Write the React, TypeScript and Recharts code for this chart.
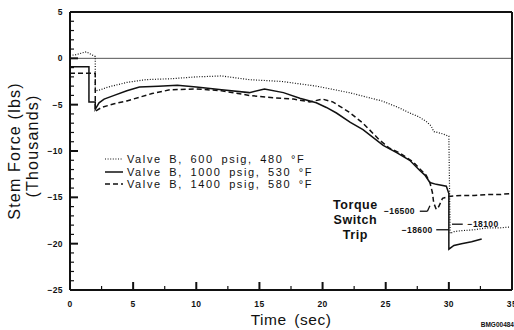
import {
  LineChart,
  Line,
  XAxis,
  YAxis,
  ReferenceLine,
  ReferenceDot,
  Legend,
} from "recharts";

const FONT = '"Liberation Sans", Arial, Helvetica, sans-serif';
const INK = "#111111";

// axis ticks (major every 5, minor in between)
const xTicks = [0, 2.5, 5, 7.5, 10, 12.5, 15, 17.5, 20, 22.5, 25, 27.5, 30, 32.5, 35];
const yTicks = [
  5, 4, 3, 2, 1, 0, -1, -2, -3, -4, -5, -6, -7, -8, -9, -10, -11, -12, -13, -14,
  -15, -16, -17, -18, -19, -20, -21, -22, -23, -24, -25,
];

const legendLabels = [
  "Valve B, 600 psig, 480 °F",
  "Valve B, 1000 psig, 530 °F",
  "Valve B, 1400 psig, 580 °F",
];

// Valve B, 600 psig (dotted trace) — time in sec, force in thousands of lbs
const v600Time = [
  0, 0.5, 1.0, 1.3, 1.7, 2.0, 2.0, 2.4, 3.0, 4.5, 6.0, 8.0, 10.0, 12.0, 14.2,
  16.8, 19.5, 22.1, 24.7, 26.0, 26.9, 27.6, 28.2, 28.6, 28.8, 29.4, 30.0, 30.1,
  30.4, 31.0, 32.0, 33.0, 34.0, 34.8,
];
const v600Force = [
  0.3, 0.4, 0.6, 0.7, 0.4, 0.2, -3.5, -3.4, -3.1, -2.6, -2.3, -2.2, -2.0, -1.9,
  -2.3, -2.5, -3.0, -3.7, -4.6, -5.3, -5.9, -6.3, -6.8, -7.3, -7.9, -8.1, -8.4,
  -18.9, -18.7, -18.6, -18.5, -18.3, -18.3, -18.2,
];

// Valve B, 1000 psig (solid trace)
const v1000Time = [
  0, 1.5, 1.5, 2.0, 2.0, 2.3, 2.7, 3.5, 4.5, 5.5, 7.0, 8.5, 10.0, 12.0, 14.2,
  15.4, 16.9, 18.2, 19.5, 20.3, 21.1, 22.2, 23.2, 24.8, 25.9, 26.9, 27.7, 28.1,
  28.5, 29.0, 29.8, 30.0, 30.0, 30.4, 31.0, 31.8, 32.6,
];
const v1000Force = [
  -0.9, -0.9, -4.7, -4.7, -5.5, -4.8, -4.4, -4.0, -3.5, -3.1, -3.0, -2.9, -3.1,
  -3.4, -3.7, -3.3, -3.7, -4.3, -4.8, -5.3, -5.9, -6.9, -7.7, -9.4, -10.2,
  -11.0, -12.1, -12.6, -13.4, -13.6, -13.8, -14.6, -20.6, -20.2, -20.0, -19.8,
  -19.5,
];

// Valve B, 1400 psig (dashed trace)
const v1400Time = [
  0, 2.0, 2.0, 2.5, 3.5, 4.5, 5.5, 6.5, 7.9, 10.0, 12.0, 14.2, 15.6, 17.7, 19.0,
  20.0, 20.8, 22.1, 23.2, 24.5, 25.3, 26.1, 27.2, 27.6, 28.2, 28.5, 28.7, 28.8,
  29.0, 29.2, 29.5, 30.0, 31.0, 32.0, 33.0, 34.0, 34.8,
];
const v1400Force = [
  -1.6, -1.6, -5.7, -5.3, -4.9, -4.6, -4.2, -3.8, -3.4, -3.3, -3.5, -4.0, -4.2,
  -4.4, -4.7, -4.4, -4.7, -5.8, -7.0, -8.8, -9.7, -10.2, -11.2, -11.8, -12.6,
  -13.4, -14.5, -15.6, -16.3, -16.0, -15.1, -14.9, -14.8, -14.8, -14.7, -14.7,
  -14.6,
];

// torque switch trip callouts
const tripText = ["−16500", "−18600", "−18100"];
const tripTextTime = [27.4, 28.8, 31.4];
const tripTextForce = [-16.5, -18.5, -17.9];
const tripTextSide = ["left", "left", "right"] as const;
const leaderFrom = [
  [27.7, -16.5],
  [28.3, -16.5],
  [29.0, -18.5],
  [30.25, -17.9],
];
const leaderTo = [
  [28.3, -16.5],
  [28.5, -15.9],
  [30.0, -18.5],
  [31.1, -17.9],
];
const captionLines = ["Torque", "Switch", "Trip"];
const captionTime = 22.6;
const captionForce = [-15.8, -17.4, -19.0];

const dashes = ["1 1.6", undefined, "5 3"];
const widths = [1.2, 1.5, 1.5];

const toPoints = (t: number[], f: number[]) => t.map((x, i) => ({ t: x, f: f[i] }));
const series = [
  toPoints(v600Time, v600Force),
  toPoints(v1000Time, v1000Force),
  toPoints(v1400Time, v1400Force),
];

const fmt = (v: number) => (v < 0 ? `\u2212${Math.abs(v)}` : String(v));
const tickText = {
  fontFamily: FONT,
  fontSize: 8.5,
  fontWeight: 700,
  fill: INK,
  letterSpacing: 0.4,
};

function BottomTick({ x, y, payload }: any) {
  const v = payload.value;
  const major = v % 5 === 0;
  return (
    <g>
      <line x1={x} y1={y} x2={x} y2={y - (major ? 8 : 4)} stroke={INK} strokeWidth={major ? 2 : 1.2} />
      {major && (
        <text x={x} y={y + 17} textAnchor="middle" {...tickText}>
          {v}
        </text>
      )}
    </g>
  );
}

function TopTick({ x, y, payload }: any) {
  const major = payload.value % 5 === 0;
  return <line x1={x} y1={y} x2={x} y2={y + (major ? 8 : 4)} stroke={INK} strokeWidth={major ? 2 : 1.2} />;
}

function LeftTick({ x, y, payload }: any) {
  const v = payload.value;
  const major = v % 5 === 0;
  return (
    <g>
      <line x1={x} y1={y} x2={x + (major ? 8 : 4)} y2={y} stroke={INK} strokeWidth={major ? 2 : 1.2} />
      {major && (
        <text x={x - 7} y={y + 3} textAnchor="end" {...tickText}>
          {fmt(v)}
        </text>
      )}
    </g>
  );
}

function RightTick({ x, y, payload }: any) {
  const major = payload.value % 5 === 0;
  return <line x1={x} y1={y} x2={x - (major ? 8 : 4)} y2={y} stroke={INK} strokeWidth={major ? 2 : 1.2} />;
}

function ForceTitle({ viewBox }: any) {
  const vx = viewBox?.x ?? 0;
  const cy = (viewBox?.y ?? 0) + (viewBox?.height ?? 0) / 2;
  const style = { fontFamily: FONT, fontSize: 16, fill: INK, letterSpacing: 1.2 };
  return (
    <g>
      <text x={vx + 14} y={cy} transform={`rotate(-90 ${vx + 14} ${cy})`} textAnchor="middle" dominantBaseline="central" {...style}>
        Stem Force (lbs)
      </text>
      <text x={vx + 32} y={cy - 5} transform={`rotate(-90 ${vx + 32} ${cy - 5})`} textAnchor="middle" dominantBaseline="central" {...style}>
        (Thousands)
      </text>
    </g>
  );
}

function TimeTitle({ viewBox }: any) {
  const vx = viewBox?.x ?? 0;
  const vy = viewBox?.y ?? 0;
  const w = viewBox?.width ?? 0;
  return (
    <g>
      <text x={vx + w / 2} y={vy + 35} textAnchor="middle" fontFamily={FONT} fontSize={15.5} fill={INK} letterSpacing={0.5} wordSpacing={3}>
        Time (sec)
      </text>
      <text x={vx + w + 2} y={vy + 37} textAnchor="end" fontFamily={FONT} fontSize={6.5} fontWeight={700} fill={INK}>
        BMG00484
      </text>
    </g>
  );
}

function LegendBox() {
  return (
    <div style={{ fontFamily: FONT, fontSize: 11, color: INK, letterSpacing: 1.6, wordSpacing: 3, lineHeight: "12.5px" }}>
      {legendLabels.map((label, i) => (
        <div key={label} style={{ display: "flex", alignItems: "center", height: 12.5 }}>
          <svg width={21} height={12}>
            <line x1={2} y1={6} x2={20} y2={6} stroke={INK} strokeWidth={widths[i]} strokeDasharray={dashes[i]} />
          </svg>
          <span style={{ marginLeft: 3, whiteSpace: "nowrap" }}>{label}</span>
        </div>
      ))}
    </div>
  );
}

const calloutStyle = { fontFamily: FONT, fontSize: 8.5, fontWeight: 700, fill: INK, letterSpacing: 0.4 };

export default function App() {
  return (
    <div style={{ position: "absolute", left: 0, top: 0, width: 514, height: 330, background: "#fff" }}>
      <LineChart width={514} height={330} margin={{ top: 0, right: 0, bottom: 0, left: 0 }}>
        <XAxis
          dataKey="t"
          type="number"
          domain={[0, 35]}
          ticks={xTicks}
          interval={0}
          height={40}
          tickSize={0}
          tickMargin={0}
          tickLine={false}
          axisLine={{ stroke: INK, strokeWidth: 2 }}
          tick={<BottomTick />}
          label={{ content: (p: any) => <TimeTitle {...p} /> }}
        />
        <XAxis
          xAxisId="top"
          orientation="top"
          dataKey="t"
          type="number"
          domain={[0, 35]}
          ticks={xTicks}
          interval={0}
          height={12}
          tickSize={0}
          tickMargin={0}
          tickLine={false}
          axisLine={{ stroke: INK, strokeWidth: 2 }}
          tick={<TopTick />}
        />
        <YAxis
          type="number"
          domain={[-25, 5]}
          ticks={yTicks}
          interval={0}
          width={70}
          tickSize={0}
          tickMargin={0}
          tickLine={false}
          axisLine={{ stroke: INK, strokeWidth: 2 }}
          tick={<LeftTick />}
          label={{ content: (p: any) => <ForceTitle {...p} /> }}
        />
        <YAxis
          yAxisId="right"
          orientation="right"
          type="number"
          domain={[-25, 5]}
          ticks={yTicks}
          interval={0}
          width={2}
          tickSize={0}
          tickMargin={0}
          tickLine={false}
          axisLine={{ stroke: INK, strokeWidth: 2 }}
          tick={<RightTick />}
        />
        <ReferenceLine y={0} stroke="#555" strokeWidth={1} />
        {series.map((data, i) => (
          <Line
            key={legendLabels[i]}
            data={data}
            dataKey="f"
            type="linear"
            stroke={INK}
            strokeWidth={widths[i]}
            strokeDasharray={dashes[i]}
            dot={false}
            isAnimationActive={false}
          />
        ))}
        {leaderFrom.map((from, i) => (
          <ReferenceLine
            key={`leader-${i}`}
            segment={[
              { x: from[0], y: from[1] },
              { x: leaderTo[i][0], y: leaderTo[i][1] },
            ]}
            stroke={INK}
            strokeWidth={1.3}
          />
        ))}
        {tripText.map((text, i) => (
          <ReferenceDot
            key={text}
            x={tripTextTime[i]}
            y={tripTextForce[i]}
            r={0}
            fill="none"
            stroke="none"
            label={{ value: text, position: tripTextSide[i], offset: 1, ...calloutStyle }}
          />
        ))}
        {captionLines.map((line, i) => (
          <ReferenceDot
            key={line}
            x={captionTime}
            y={captionForce[i]}
            r={0}
            fill="none"
            stroke="none"
            label={{ value: line, position: "center", fontFamily: FONT, fontSize: 12.5, fontWeight: 700, fill: INK, letterSpacing: 0.6 }}
          />
        ))}
        <Legend
          layout="vertical"
          align="center"
          verticalAlign="middle"
          wrapperStyle={{ left: 103, top: 153, width: 260 }}
          content={() => <LegendBox />}
        />
      </LineChart>
    </div>
  );
}
